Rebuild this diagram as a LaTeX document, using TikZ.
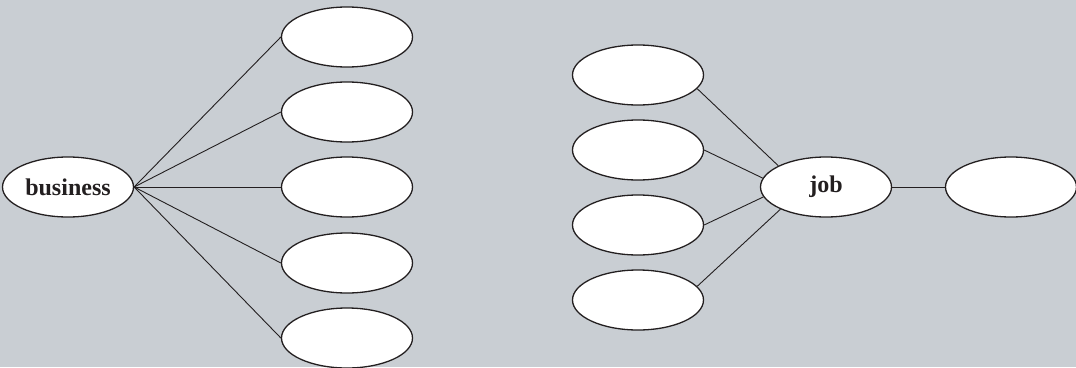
\documentclass[tikz,border=0pt]{standalone}
\usepackage{fontspec}
\setmainfont{Liberation Serif}
\usetikzlibrary{shapes.geometric}
\definecolor{bg}{RGB}{201,206,211}
\definecolor{ink}{RGB}{35,31,32}
\tikzset{
  oval/.style={ellipse, draw=ink, line width=1.3pt, fill=white,
    minimum width=131pt, minimum height=60pt, inner sep=0pt,
    font=\fontsize{24}{26}\selectfont\bfseries, text=ink},
  link/.style={draw=ink, line width=0.9pt}
}
\begin{document}
\begin{tikzpicture}[x=1pt,y=-1pt]
  \fill[bg] (0,0) rectangle (1076,367);
  \useasboundingbox (0,0) rectangle (1076,367);
  % left cluster
  \node[oval] (biz) at (68,187) {business};
  \node[oval] (b1) at (347,37) {};
  \node[oval] (b2) at (347,112) {};
  \node[oval] (b3) at (347,187) {};
  \node[oval] (b4) at (347,263) {};
  \node[oval] (b5) at (347,338) {};
  \foreach \n in {b1,b2,b3,b4,b5}
    \draw[link] (biz.east) -- (\n.west);
  % right cluster
  \node[oval] (job) at (826,187) {job};
  \node[oval] (j1) at (638,75) {};
  \node[oval] (j2) at (638,150) {};
  \node[oval] (j3) at (638,225) {};
  \node[oval] (j4) at (638,300) {};
  \node[oval] (out) at (1011,187) {};
  \draw[link] (j1.-13) -- (job.156);
  \draw[link] (j2.east) -- (job.172);
  \draw[link] (j3.east) -- (job.-171);
  \draw[link] (j4.13) -- (job.-154);
  \draw[link] (job.east) -- (out.west);
\end{tikzpicture}
\end{document}
